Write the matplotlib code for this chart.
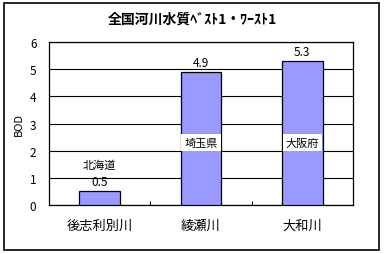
import matplotlib
matplotlib.use("Agg")
import matplotlib.pyplot as plt
from matplotlib.patches import Rectangle

plt.rcParams['font.family'] = ['Noto Sans CJK JP', 'DejaVu Sans']

title = "全国河川水質ﾍﾞｽﾄ1・ﾜｰｽﾄ1"
categories = ["後志利別川", "綾瀬川", "大和川"]
values = [0.5, 4.9, 5.3]
prefectures = ["北海道", "埼玉県", "大阪府"]
y_label = "BOD"
y_ticks = [0, 1, 2, 3, 4, 5, 6]

fig = plt.figure(figsize=(3.84, 2.55), dpi=100)
fig.patch.set_facecolor('white')
fig.patches.append(Rectangle((4/384, 1-251/255), 375/384, 247/255,
                             transform=fig.transFigure, fill=False,
                             edgecolor='black', linewidth=1.2))

ax = fig.add_axes([49/384, 1-206/255, 304/384, 163/255])
x = list(range(len(categories)))
ax.bar(x, values, width=0.4, color='#9999FF', edgecolor='black',
       linewidth=0.9, zorder=3)
ax.set_xlim(-0.5, 2.5)
ax.set_ylim(0, 6)
ax.set_yticks(y_ticks)
ax.yaxis.grid(True, color='black', linewidth=0.8, zorder=0)
ax.set_axisbelow(True)
ax.tick_params(axis='y', length=0, pad=9, labelsize=8.5)
ax.set_xticks(x)
ax.set_xticklabels(categories, fontsize=9.5)
ax.tick_params(axis='x', which='major', length=0, pad=10)
ax.set_xticks([0.5, 1.5], minor=True)
ax.tick_params(axis='x', which='minor', direction='in', length=3, width=0.8)
for s in ax.spines.values():
    s.set_linewidth(0.9)
ax.set_ylabel(y_label, fontsize=8, labelpad=4)

# value labels
for i, v in enumerate(values):
    ax.text(i, v + 0.12, f"{v}", ha='center', va='bottom', fontsize=8.5, zorder=5)

# prefecture labels
ax.text(0, 1.5, prefectures[0], ha='center', va='center', fontsize=8, zorder=5)
for i in (1, 2):
    ax.text(i, 2.3, prefectures[i], ha='center', va='center', fontsize=8, zorder=5,
            bbox=dict(boxstyle='square,pad=0.28', facecolor='white', edgecolor='none'))

fig.text(0.5, 1-20/255, title, ha='center', va='center', fontsize=10, fontweight='bold')

fig.savefig("out.png", dpi=100)
